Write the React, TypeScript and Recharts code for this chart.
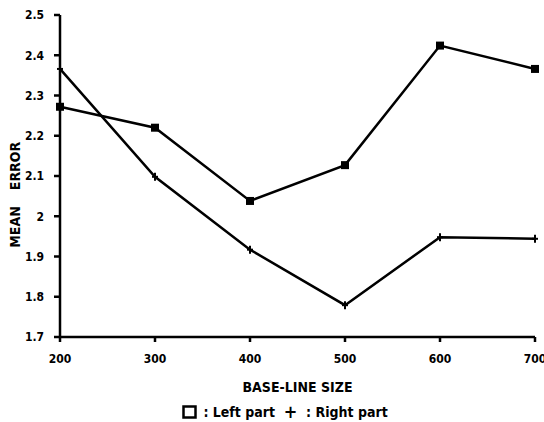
import React from 'react';
import { LineChart, Line, XAxis, YAxis, Legend, Label } from 'recharts';

const baseLineSizes = [200, 300, 400, 500, 600, 700];
const leftPart = [2.272, 2.22, 2.038, 2.127, 2.424, 2.366];
const rightPart = [2.366, 2.098, 1.917, 1.779, 1.948, 1.944];
const yTicks = [1.7, 1.8, 1.9, 2, 2.1, 2.2, 2.3, 2.4, 2.5];
const yTickLabels = ['1.7', '1.8', '1.9', '2', '2.1', '2.2', '2.3', '2.4', '2.5'];

const data = baseLineSizes.map((size, i) => ({
    size,
    left: leftPart[i],
    right: rightPart[i],
}));

const FONT = '"DejaVu Sans", sans-serif';
const baseText = { fontFamily: FONT, fontWeight: 700, fontStretch: 'condensed', fill: '#000' } as const;

const SquareDot = (props: any) => {
    const { cx, cy } = props;
    if (cx == null || cy == null) return null;
    return <rect x={cx - 4} y={cy - 4} width={8} height={8} fill="#000" />;
};

const PlusDot = (props: any) => {
    const { cx, cy } = props;
    if (cx == null || cy == null) return null;
    return (
        <g stroke="#000" strokeWidth={2}>
            <line x1={cx - 3} y1={cy} x2={cx + 3} y2={cy} />
            <line x1={cx} y1={cy - 4} x2={cx} y2={cy + 4} />
        </g>
    );
};

// the two words of the y title sit apart, as in the scan
const YTitle = (props: any) => {
    const { viewBox } = props;
    const x = 15;
    const mid = viewBox.y + viewBox.height / 2;
    const errY = mid - 10;
    const meanY = mid + 51;
    const style = { ...baseText, fontSize: 14 };
    return (
        <g>
            <text x={x} y={errY} transform={`rotate(-90 ${x} ${errY})`} textAnchor="middle" dominantBaseline="central" style={style}>
                ERROR
            </text>
            <text x={x} y={meanY} transform={`rotate(-90 ${x} ${meanY})`} textAnchor="middle" dominantBaseline="central" style={style}>
                MEAN
            </text>
        </g>
    );
};

const LegendContent = () => (
    <div style={{ fontFamily: FONT, fontWeight: 700, fontStretch: 'condensed', fontSize: 14, color: '#000', whiteSpace: 'pre', display: 'flex', alignItems: 'center' }}>
        <svg width={15} height={14} style={{ marginRight: 2 }}>
            <rect x={1.5} y={1.5} width={12} height={11} fill="none" stroke="#000" strokeWidth={2.5} />
        </svg>
        <span>{' : Left part  '}</span>
        <span style={{ fontSize: 18 }}>+</span>
        <span>{'  : Right part'}</span>
    </div>
);

const App: React.FC = () => {
    const tickStyle = { ...baseText, fontSize: 12 };
    return (
        <div style={{ position: 'absolute', left: 0, top: 0, background: '#fff' }}>
            <LineChart
                width={544}
                height={422}
                data={data}
                margin={{ top: 15, right: 9, left: 16, bottom: 30 }}
            >
                <XAxis
                    dataKey="size"
                    type="number"
                    domain={[200, 700]}
                    ticks={baseLineSizes}
                    stroke="#000"
                    strokeWidth={2.5}
                    tickSize={5}
                    tickMargin={12}
                    tick={tickStyle}
                    height={55}
                >
                    <Label
                        value="BASE-LINE SIZE"
                        position="insideBottom"
                        offset={0}
                        style={{ ...baseText, fontSize: 14 }}
                    />
                </XAxis>
                <XAxis xAxisId="top" orientation="top" dataKey="size" type="number" domain={[200, 700]} tick={false} tickLine={false} stroke="#000" strokeWidth={2.5} height={0} />
                <YAxis
                    type="number"
                    domain={[1.7, 2.5]}
                    ticks={yTicks}
                    tickFormatter={(v: number) => yTickLabels[yTicks.indexOf(v)] ?? String(v)}
                    stroke="#000"
                    strokeWidth={2.5}
                    tickSize={6}
                    tickMargin={10}
                    tick={tickStyle}
                    width={44}
                >
                    <Label content={<YTitle />} />
                </YAxis>
                <YAxis yAxisId="right" orientation="right" type="number" domain={[1.7, 2.5]} tick={false} tickLine={false} stroke="#000" strokeWidth={2.5} width={0} />
                <Legend
                    verticalAlign="middle"
                    content={<LegendContent />}
                    wrapperStyle={{ position: 'absolute', left: 182, top: 401, width: 240 }}
                />
                <Line
                    type="linear"
                    dataKey="left"
                    name="Left part"
                    stroke="#000"
                    strokeWidth={2.5}
                    dot={<SquareDot />}
                    activeDot={false}
                    isAnimationActive={false}
                />
                <Line
                    type="linear"
                    dataKey="right"
                    name="Right part"
                    stroke="#000"
                    strokeWidth={2.5}
                    dot={<PlusDot />}
                    activeDot={false}
                    isAnimationActive={false}
                />
            </LineChart>
        </div>
    );
};

export default App;
